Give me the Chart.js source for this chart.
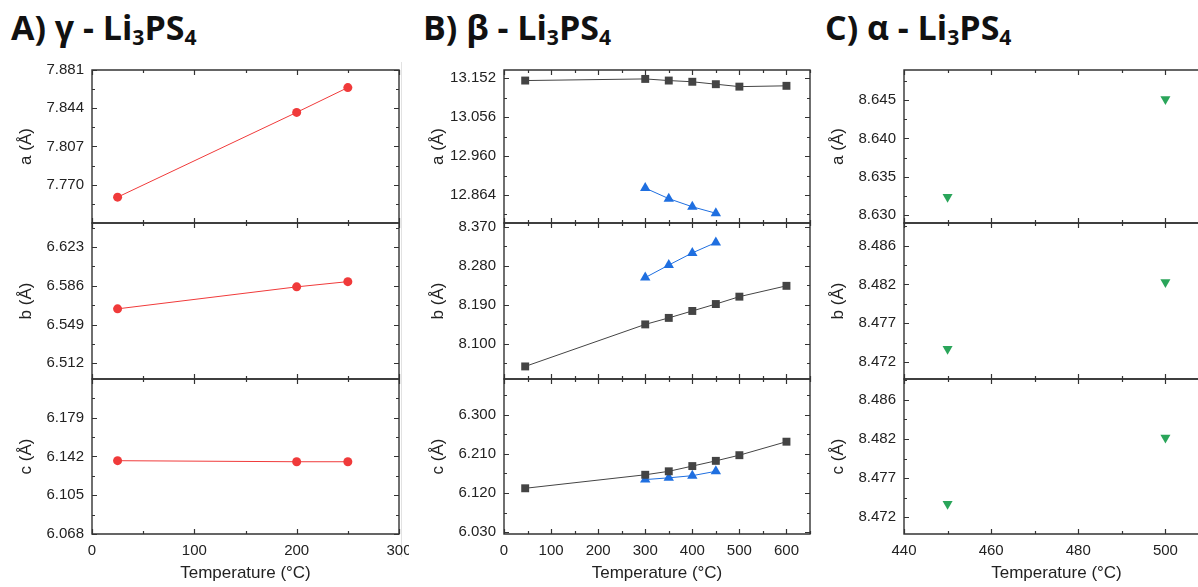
<!DOCTYPE html>
<html>
<head>
  <title>Li3PS4 lattice parameters</title>
  <script src="https://cdn.jsdelivr.net/npm/chart.js"></script>
  <style>
    html, body {
      margin: 0;
      padding: 0;
      background: #ffffff;
      width: 1198px;
      height: 587px;
      overflow: hidden;
      position: relative;
    }
    canvas { position: absolute; }
    .head {
      position: absolute;
      top: 10px;
      font-family: 'Open Sans', sans-serif;
      font-weight: 700;
      font-size: 34px;
      line-height: 34px;
      color: #111;
      white-space: nowrap;
    }
    .head sub { font-size: 0.62em; vertical-align: -0.22em; line-height: 0; }
    .sep {
      position: absolute;
      top: 62px;
      width: 1px;
      height: 495px;
      background: #e2e2e2;
    }
  </style>
</head>
<body>
  <div class="head" style="left: 11px;">A) γ - Li<sub>3</sub>PS<sub>4</sub></div>
  <div class="head" style="left: 423px;">B) β - Li<sub>3</sub>PS<sub>4</sub></div>
  <div class="head" style="left: 825px;">C) α - Li<sub>3</sub>PS<sub>4</sub></div>
  <div class="sep" style="left: 401px;"></div>

<script>
  // ---- data ----
  // gamma phase
  const gammaTemp = [25, 200, 250];
  const gammaA = [7.758, 7.840, 7.864];
  const gammaB = [6.564, 6.585, 6.590];
  const gammaC = [6.138, 6.137, 6.137];

  // beta phase, grey squares
  const betaTemp = [45, 300, 350, 400, 450, 500, 600];
  const betaA = [13.146, 13.150, 13.146, 13.143, 13.137, 13.131, 13.133];
  const betaB = [8.048, 8.145, 8.160, 8.176, 8.192, 8.209, 8.234];
  const betaC = [6.131, 6.162, 6.170, 6.182, 6.194, 6.207, 6.238];

  // beta phase, blue triangles
  const beta2Temp = [300, 350, 400, 450];
  const beta2A = [12.881, 12.855, 12.835, 12.819];
  const beta2B = [8.253, 8.282, 8.310, 8.334];
  const beta2C = [6.151, 6.155, 6.160, 6.170];

  // alpha phase
  const alphaTemp = [450, 500];
  const alphaA = [8.6324, 8.6451];
  const alphaB = [8.4736, 8.4816];
  const alphaC = [8.4736, 8.4815];

  // tick values / labels
  const xTicksA = [0, 100, 200, 300];
  const xTicksB = [0, 100, 200, 300, 400, 500, 600];
  const xTicksC = [440, 460, 480, 500];

  const yTicksGa = [7.770, 7.807, 7.844, 7.881];
  const yTicksGb = [6.512, 6.549, 6.586, 6.623];
  const yTicksGc = [6.068, 6.105, 6.142, 6.179];
  const yTicksBa = [12.864, 12.960, 13.056, 13.152];
  const yTicksBb = [8.100, 8.190, 8.280, 8.370];
  const yTicksBc = [6.030, 6.120, 6.210, 6.300];
  const yTicksAa = [8.630, 8.635, 8.640, 8.645];
  const yLabelsAa = ['8.630', '8.635', '8.640', '8.645'];
  const yTicksAbc = [8.4720, 8.47667, 8.48133, 8.4860];
  const yLabelsAbc = ['8.472', '8.477', '8.482', '8.486'];

  const RED = '#f03a3a', GREY = '#444444', BLUE = '#1f6fe0', GREEN = '#2aa55a';
  const FONT = "'Liberation Sans', Arial, sans-serif";

  // minor ticks halfway between majors, extended one step each side
  function minors(major, min, max) {
    const step = major[1] - major[0];
    const out = [];
    for (let v = major[0] - step / 2; v <= max + 1e-9; v += step) {
      if (v >= min - 1e-9) out.push(v);
    }
    return out;
  }

  // box + inward ticks on all four sides
  const framePlugin = {
    id: 'frame',
    afterDraw(chart, args, o) {
      const { ctx, chartArea: a, scales: { x, y } } = chart;
      ctx.save();
      ctx.strokeStyle = '#333';
      ctx.lineWidth = 1.4;
      ctx.beginPath();
      ctx.rect(a.left, a.top, a.right - a.left, a.bottom - a.top);
      ctx.stroke();
      ctx.lineWidth = 1.2;
      ctx.beginPath();
      const xt = (vals, len) => vals.forEach(v => {
        const px = Math.round(x.getPixelForValue(v)) + 0.5;
        if (px < a.left - 1 || px > a.right + 1) return;
        ctx.moveTo(px, a.bottom); ctx.lineTo(px, a.bottom - len);
        ctx.moveTo(px, a.top); ctx.lineTo(px, a.top + len);
      });
      const yt = (vals, len) => vals.forEach(v => {
        const py = Math.round(y.getPixelForValue(v)) + 0.5;
        if (py < a.top - 1 || py > a.bottom + 1) return;
        ctx.moveTo(a.left, py); ctx.lineTo(a.left + len, py);
        ctx.moveTo(a.right, py); ctx.lineTo(a.right - len, py);
      });
      xt(o.xMajor, 5); xt(minors(o.xMajor, x.min, x.max), 3);
      yt(o.yMajor, 5); yt(minors(o.yMajor, y.min, y.max), 3);
      ctx.stroke();
      ctx.restore();
    }
  };

  function pts(xs, ys) { return xs.map((v, i) => ({ x: v, y: ys[i] })); }

  function panel(cfg) {
    const cv = document.createElement('canvas');
    const bottomRow = cfg.row === 2;
    const plotTop = [70, 223, 379][cfg.row];
    const plotBot = [223, 379, 534][cfg.row];
    const top = plotTop - 10;
    const h = bottomRow ? 587 - top : (plotBot - plotTop) + 20;
    const w = 80 + cfg.plotW + 10;
    cv.width = w; cv.height = h;
    cv.style.left = (cfg.plotLeft - 80) + 'px';
    cv.style.top = top + 'px';
    cv.style.width = w + 'px';
    cv.style.height = h + 'px';
    document.body.appendChild(cv);

    new Chart(cv.getContext('2d'), {
      type: 'scatter',
      data: { datasets: cfg.datasets },
      options: {
        responsive: false,
        animation: false,
        events: [],
        layout: { autoPadding: false, padding: { top: 10, bottom: bottomRow ? 0 : 10, left: 0, right: 10 } },
        plugins: {
          legend: { display: false },
          tooltip: { enabled: false },
          frame: { xMajor: cfg.xTicks, yMajor: cfg.yTicks }
        },
        scales: {
          x: {
            type: 'linear',
            display: bottomRow,
            min: cfg.xMin, max: cfg.xMax,
            grid: { display: false, drawTicks: false },
            border: { display: false },
            afterBuildTicks: s => { s.ticks = cfg.xTicks.map(v => ({ value: v })); },
            afterFit: s => {
              s.height = bottomRow ? 53 : 0;
              s.paddingLeft = 0; s.paddingRight = 0;
            },
            ticks: { padding: 8, color: '#222', font: { family: FONT, size: 15 }, maxRotation: 0, autoSkip: false },
            title: { display: true, text: 'Temperature (°C)', color: '#222', padding: { top: 0, bottom: 3 }, font: { family: FONT, size: 17 } }
          },
          y: {
            type: 'linear',
            min: cfg.yMin, max: cfg.yMax,
            grid: { display: false, drawTicks: false },
            border: { display: false },
            afterBuildTicks: s => { s.ticks = cfg.yTicks.map(v => ({ value: v })); },
            afterFit: s => {
              s.width = 80;
              s.paddingTop = 0; s.paddingBottom = 0;
            },
            ticks: {
              padding: 8, color: '#222', font: { family: FONT, size: 15 }, autoSkip: false,
              callback: (v, i) => cfg.yLabels ? cfg.yLabels[i] : v.toFixed(3)
            },
            title: { display: true, text: cfg.yTitle, color: '#222', padding: { top: 4, bottom: 0 }, font: { family: FONT, size: 17 } }
          }
        }
      },
      plugins: [framePlugin]
    });
  }

  function ds(xs, ys, color, style, r, line, rot) {
    return {
      data: pts(xs, ys),
      showLine: line,
      borderColor: color,
      borderWidth: 1,
      backgroundColor: color,
      pointBackgroundColor: color,
      pointBorderWidth: 0,
      pointStyle: style,
      pointRadius: r,
      rotation: rot || 0,
      clip: false
    };
  }

  // column A: gamma
  const colA = { plotLeft: 92, plotW: 307, xMin: 0, xMax: 300, xTicks: xTicksA };
  panel({ ...colA, row: 0, yMin: 7.733, yMax: 7.881, yTicks: yTicksGa, yTitle: 'a (Å)',
    datasets: [ds(gammaTemp, gammaA, RED, 'circle', 4.5, true)] });
  panel({ ...colA, row: 1, yMin: 6.497, yMax: 6.646, yTicks: yTicksGb, yTitle: 'b (Å)',
    datasets: [ds(gammaTemp, gammaB, RED, 'circle', 4.5, true)] });
  panel({ ...colA, row: 2, yMin: 6.068, yMax: 6.216, yTicks: yTicksGc, yTitle: 'c (Å)',
    datasets: [ds(gammaTemp, gammaC, RED, 'circle', 4.5, true)] });

  // column B: beta
  const colB = { plotLeft: 504, plotW: 306, xMin: 0, xMax: 650, xTicks: xTicksB };
  panel({ ...colB, row: 0, yMin: 12.795, yMax: 13.172, yTicks: yTicksBa, yTitle: 'a (Å)',
    datasets: [ds(betaTemp, betaA, GREY, 'rect', 5.6, true), ds(beta2Temp, beta2A, BLUE, 'triangle', 6, true)] });
  panel({ ...colB, row: 1, yMin: 8.019, yMax: 8.379, yTicks: yTicksBb, yTitle: 'b (Å)',
    datasets: [ds(betaTemp, betaB, GREY, 'rect', 5.6, true), ds(beta2Temp, beta2B, BLUE, 'triangle', 6, true)] });
  panel({ ...colB, row: 2, yMin: 6.026, yMax: 6.382, yTicks: yTicksBc, yTitle: 'c (Å)',
    datasets: [ds(betaTemp, betaC, GREY, 'rect', 5.6, true), ds(beta2Temp, beta2C, BLUE, 'triangle', 6, true)] });

  // column C: alpha
  const colC = { plotLeft: 904, plotW: 305, xMin: 440, xMax: 510, xTicks: xTicksC };
  panel({ ...colC, row: 0, yMin: 8.629, yMax: 8.6489, yTicks: yTicksAa, yLabels: yLabelsAa, yTitle: 'a (Å)',
    datasets: [ds(alphaTemp, alphaA, GREEN, 'triangle', 5.8, false, 180)] });
  panel({ ...colC, row: 1, yMin: 8.4700, yMax: 8.4887, yTicks: yTicksAbc, yLabels: yLabelsAbc, yTitle: 'b (Å)',
    datasets: [ds(alphaTemp, alphaB, GREEN, 'triangle', 5.8, false, 180)] });
  panel({ ...colC, row: 2, yMin: 8.4700, yMax: 8.4885, yTicks: yTicksAbc, yLabels: yLabelsAbc, yTitle: 'c (Å)',
    datasets: [ds(alphaTemp, alphaC, GREEN, 'triangle', 5.8, false, 180)] });
</script>
</body>
</html>
